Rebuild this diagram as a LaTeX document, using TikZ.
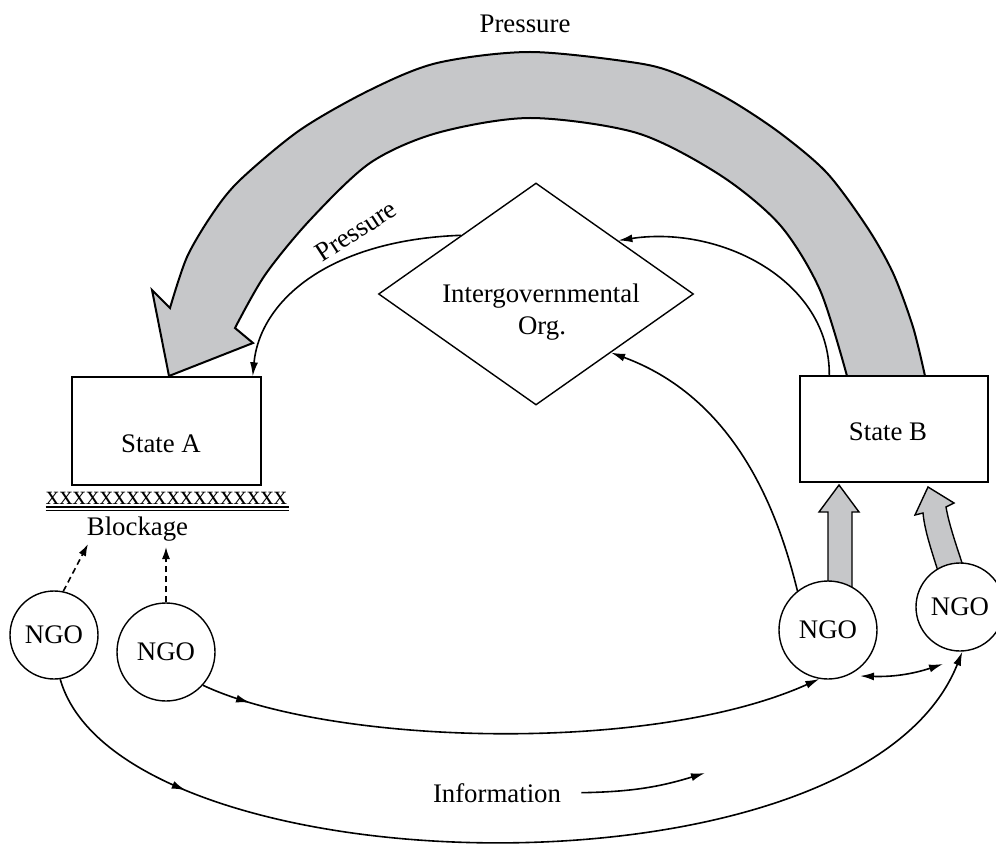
\documentclass[tikz,border=0pt]{standalone}
\usepackage{fontspec}
\setmainfont{Liberation Serif}
\usetikzlibrary{arrows.meta,shapes.geometric,decorations.markings,calc}

\definecolor{bandgray}{RGB}{198,199,201}

\begin{document}
\begin{tikzpicture}[x=0.5pt,y=-0.5pt,
  font=\fontsize{13.4}{16}\selectfont,
  box/.style={draw,line width=0.7pt,fill=white,rectangle,inner sep=0pt},
  ngo/.style={draw,line width=0.7pt,fill=white,circle,inner sep=0pt},
  igobox/.style={draw,line width=0.7pt,diamond,inner sep=0pt},
  link/.style={line width=0.8pt,-{Latex[length=7pt,width=4pt]}},
  twoway/.style={line width=0.8pt,{Latex[length=7pt,width=4pt]}-{Latex[length=7pt,width=4pt]}},
  dashlink/.style={line width=0.8pt,dash pattern=on 3pt off 2pt,-{Latex[length=6pt,width=4pt]}},
  midarrow/.style={postaction={decorate},decoration={markings,
      mark=at position #1 with {\arrow{Latex[length=7pt,width=4pt]}}}},
  band/.style={fill=bandgray,draw,line width=1pt,line join=miter},
  lbl/.style={inner sep=0pt,anchor=base}
]
\useasboundingbox (0,0) rectangle (996,850);

% large curved pressure arrow from State B over to State A
\filldraw[band]
  plot[smooth] coordinates {(925,376) (913,327) (893,273) (867,227) (827,173)
        (780,133) (730,100) (680,75) (637,63) (530,52) (437,63) (370,90)
        (300,130) (240,180) (213,213) (187,257) (170,308)}
  -- (152,290) -- (169,376) -- (253,343) -- (235,328)
  -- plot[smooth] coordinates {(235,328) (265,275) (310,220) (370,163)
        (437,133) (530,118) (637,133) (720,175) (780,225) (820,290) (847,376)}
  -- cycle;

% block arrows from the NGOs up to State B
\filldraw[band,line width=0.7pt]
  (828,600) -- (828,512) -- (819,512) -- (839,485) -- (859,512) -- (852,512) -- (852,600) -- cycle;
\filldraw[band,line width=0.7pt]
  (947,600) .. controls (935,560) and (925,535) .. (923,513) -- (915,515) -- (928,487)
  -- (954,503) -- (946,507) .. controls (950,530) and (960,555) .. (974,600) -- cycle;

% actors
\node[box,minimum width=94.5pt,minimum height=54pt] (stateA) at (166.5,431) {};
\node[lbl] (stateAtxt) at (161,452) {State A};
\node[box,minimum width=94pt,minimum height=53pt] (stateB) at (894,429) {};
\node[lbl] (stateBtxt) at (888,440) {State B};
\node[igobox,minimum width=157.5pt,minimum height=111pt] (igo) at (536,294) {};
\node[lbl] (igotxt1) at (541,303) {Intergovernmental};
\node[lbl] (igotxt2) at (542,335) {Org.};

\node[ngo,minimum size=44pt] (ngoL1) at (54,635) {NGO};
\node[ngo,minimum size=49pt] (ngoL2) at (166,652) {NGO};
\node[ngo,minimum size=49pt] (ngoR1) at (828,630) {NGO};
\node[ngo,minimum size=44pt] (ngoR2) at (960,607) {NGO};

% blockage under State A
\node[lbl] (xline) at (166.5,504) {xxxxxxxxxxxxxxxxxx};
\draw[line width=0.6pt] (xline.base west) ++(0,3) -- ++(243,0);
\draw[line width=0.6pt] (xline.base west) ++(0,6.5) -- ++(243,0);
\node[lbl] (blockage) at (137.5,535) {Blockage};

% labels
\node[lbl] (pressTop) at (525,33) {Pressure};
\node[inner sep=0pt,rotate=33] (pressSide) at (356,231) {Pressure};
\node[lbl] (info) at (497,802) {Information};

% free ends
\coordinate (blkL) at (88,544);
\coordinate (blkR) at (166,547);
\coordinate (pairL) at (860,676);
\coordinate (pairR) at (943,664);
\coordinate (infoEnd) at (705,773);

% thin connectors
\draw[link] ([xshift=15pt]stateB.north west) .. controls (830,280) and (720,225) .. (igo.33);
\draw[link] (igo.142) .. controls (330,240) and (260,300) .. ([xshift=-4.5pt]stateA.north east);
\draw[link] (ngoR1.128) .. controls (780,520) and (740,400) .. (igo.-38);

\draw[dashlink] (ngoL1.78) -- (blkL);
\draw[dashlink] (ngoL2.90) -- (blkR);

\draw[link,midarrow=0.08] (ngoL2.-42) .. controls (330,745) and (650,755) .. (ngoR1.-100);
\draw[link,midarrow=0.17] (ngoL1.-82) .. controls (120,890) and (860,910) .. (ngoR2.-87);
\draw[twoway] (pairL) to[bend right=10] (pairR);

\draw[link] ([xshift=10pt]info.east) to[bend right=8] (infoEnd);
\end{tikzpicture}
\end{document}
